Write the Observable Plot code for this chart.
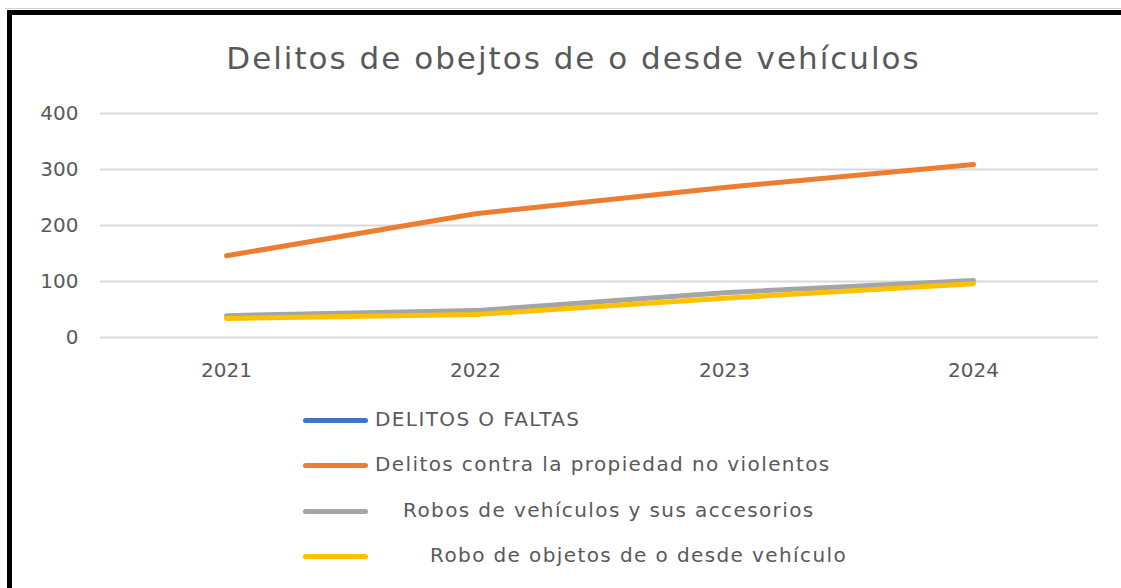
<!DOCTYPE html>
<html>
<head>
<meta charset="utf-8">
<script src="https://cdn.jsdelivr.net/npm/d3@7"></script>
<script src="https://cdn.jsdelivr.net/npm/@observablehq/plot@0.6"></script>
<style>
  html, body { margin: 0; padding: 0; background: #fff; overflow: hidden; }
  #wrap { position: relative; width: 1121px; height: 588px; background: #fff; }
  #topgray { position: absolute; left: 5px; top: 8px; width: 1116px; height: 1px; background: #d0d0d0; }
  #frame { position: absolute; left: 7px; top: 10px; width: 1200px; height: 700px;
           border-left: 5px solid #000; border-top: 5px solid #000; box-sizing: border-box; }
  #title { position: absolute; left: 0; width: 1147px; top: 43px; text-align: center;
           font-family: "DejaVu Sans", sans-serif; font-size: 31px; letter-spacing: 2px; line-height: 1; color: #595959; white-space: nowrap; }
  #chart { position: absolute; left: 0; top: 0; }
  .leg { position: absolute; font-family: "DejaVu Sans", sans-serif; font-size: 20px; letter-spacing: 1.4px; color: #595959; white-space: nowrap; line-height: 1; }
  .sw { position: absolute; height: 5px; border-radius: 3px; }
</style>
</head>
<body>
<div id="wrap">
  <div id="topgray"></div>
  <div id="frame"></div>
  <div id="chart"></div>
  <div id="title">Delitos de obejtos de o desde vehículos</div>
  <div id="legend"></div>
</div>
<script>
const years = ["2021", "2022", "2023", "2024"];
const seriesNames = [
  "DELITOS O FALTAS",
  "Delitos contra la propiedad no violentos",
  "Robos de vehículos y sus accesorios",
  "Robo de objetos de o desde vehículo"
];
const seriesColors = ["#4472C4", "#ED7D31", "#A5A5A5", "#FFC000"];
const delitosFaltas = [];               // not visible in the chart
const propiedadNoViolentos = [146, 221, 268, 309];
const robosVehiculos = [39, 48, 80, 102];
const roboObjetos = [34, 41, 70, 96];
const yTicks = [0, 100, 200, 300, 400];
const legendIndent = [0, 0, 28, 55];

const valuesBySeries = [delitosFaltas, propiedadNoViolentos, robosVehiculos, roboObjetos];
const data = [];
valuesBySeries.forEach((vals, si) => {
  vals.forEach((v, i) => data.push({ series: seriesNames[si], year: years[i], value: v }));
});

const chart = Plot.plot({
  width: 1121,
  height: 390,
  marginLeft: 100,
  marginRight: 23,
  marginTop: 113,
  marginBottom: 53,
  style: { fontFamily: "DejaVu Sans, sans-serif", fontSize: "20px", color: "#595959", background: "transparent", overflow: "visible" },
  x: { type: "point", domain: years, padding: 0.5 },
  y: { domain: [0, 400] },
  color: { domain: seriesNames, range: seriesColors },
  marks: [
    Plot.ruleY(yTicks, { stroke: "#d9d9d9", strokeWidth: 2 }),
    Plot.axisY({ ticks: yTicks, tickSize: 0, tickPadding: 22, label: null, style: { letterSpacing: "2px" } }),
    Plot.axisX({ tickSize: 0, tickPadding: 25, label: null, style: { letterSpacing: "2px" } }),
    Plot.line(data, { x: "year", y: "value", z: "series", stroke: "series", strokeWidth: 5, strokeLinecap: "round", strokeLinejoin: "round" })
  ]
});
document.getElementById("chart").appendChild(chart);

const legend = document.getElementById("legend");
const legY = [420, 465, 511, 556];
seriesNames.forEach((name, i) => {
  const sw = document.createElement("div");
  sw.className = "sw";
  sw.style.left = "303px";
  sw.style.width = "65px";
  sw.style.top = (legY[i] - 2.5) + "px";
  sw.style.background = seriesColors[i];
  legend.appendChild(sw);
  const t = document.createElement("div");
  t.className = "leg";
  t.textContent = name;
  t.style.left = (375 + legendIndent[i]) + "px";
  t.style.top = (legY[i] - 11) + "px";
  legend.appendChild(t);
});
</script>
</body>
</html>
